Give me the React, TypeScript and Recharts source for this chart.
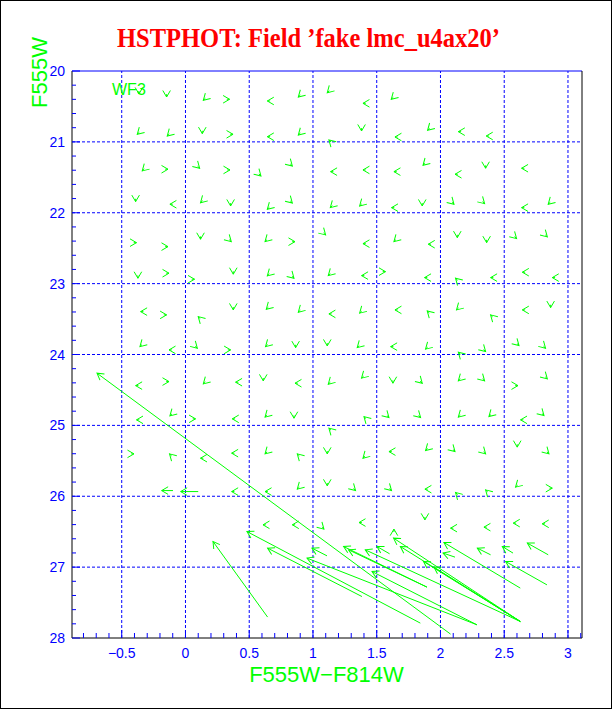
import React from "react";
import { LineChart, Line, XAxis, YAxis, ReferenceLine } from "recharts";

const GREEN = "#00ff00";
const BLUE = "#0000ff";
const AXIS_FONT = "'Liberation Sans', Arial, sans-serif";

const colorDomain: [number, number] = [-0.89, 3.11];
const magDomain: [number, number] = [20, 28];

const colorLabels = [-0.5, 0, 0.5, 1, 1.5, 2, 2.5, 3];
const magLabels = [20, 21, 22, 23, 24, 25, 26, 27, 28];
const colorGrid = [-0.5, 0, 0.5, 1, 1.5, 2, 2.5, 3];
const magGrid = [21, 22, 23, 24, 25, 26, 27];

// minor ticks every 0.1 in colour, 0.2 in magnitude
const colorTicks = Array.from({ length: 40 }, (_, i) => Math.round((-0.8 + i * 0.1) * 10) / 10);
const magTicks = Array.from({ length: 41 }, (_, i) => Math.round((20 + i * 0.2) * 10) / 10);

// recovered star position (colour, mag) + which way the tiny shift points
type Chevron = [number, number, string];

const brightStars: Chevron[] = [
  [-0.365, 20.324, "D"], [-0.148, 20.367, "D"], [0.14, 20.413, "DL"], [0.346, 20.399, "R"],
  [0.642, 20.423, "L"], [0.885, 20.367, "DL"], [1.112, 20.306, "DL"], [1.392, 20.456, "L"],
  [1.614, 20.399, "DL"],
  [-0.378, 20.893, "DL"], [-0.143, 20.917, "DL"], [0.132, 20.884, "D"], [0.373, 20.893, "R"],
  [0.642, 20.927, "L"], [0.885, 20.903, "DL"], [1.125, 20.973, "UL"], [1.381, 20.846, "D"],
  [1.643, 20.931, "L"], [1.899, 20.836, "DL"], [2.14, 20.856, "L"], [2.359, 20.917, "L"],
  [-0.339, 21.41, "DL"], [-0.137, 21.386, "R"], [0.111, 21.372, "DR"], [0.349, 21.396, "R"],
  [0.592, 21.481, "DR"], [0.838, 21.34, "DR"], [1.138, 21.42, "L"], [1.392, 21.396, "L"],
  [1.635, 21.42, "L"], [1.863, 21.33, "DL"], [2.114, 21.457, "L"], [2.354, 21.372, "D"],
  [2.636, 21.372, "L"],
  [-0.391, 21.843, "D"], [-0.122, 21.88, "L"], [0.118, 21.858, "DL"], [0.354, 21.904, "D"],
  [0.642, 21.951, "DL"], [0.838, 21.862, "DR"], [1.136, 21.928, "DL"], [1.366, 21.904, "DL"],
  [1.616, 21.928, "L"], [1.857, 21.904, "D"], [2.106, 21.88, "DR"], [2.346, 21.872, "DR"],
  [2.636, 21.928, "L"], [2.845, 21.88, "DL"],
  [-0.384, 22.422, "R"], [-0.137, 22.478, "R"], [0.118, 22.374, "D"], [0.359, 22.408, "DR"],
  [0.624, 22.408, "DL"], [0.859, 22.408, "R"], [1.099, 22.313, "DR"], [1.392, 22.436, "L"],
  [1.635, 22.408, "DL"], [1.904, 22.444, "L"], [2.132, 22.351, "D"], [2.362, 22.422, "D"],
  [2.597, 22.365, "DR"], [2.838, 22.341, "DR"],
];

const midStars: Chevron[] = [
  [-0.373, 22.924, "D"], [-0.129, 22.853, "R"], [0.071, 22.938, "R"], [0.375, 22.867, "D"],
  [0.642, 22.891, "DL"], [0.851, 22.924, "DR"], [1.12, 22.887, "DL"], [1.381, 22.887, "L"],
  [1.569, 22.831, "R"], [1.875, 22.915, "L"], [2.118, 22.924, "UL"], [2.393, 22.915, "L"],
  [2.642, 22.839, "L"], [2.877, 22.915, "L"],
  [-0.352, 23.395, "L"], [-0.148, 23.441, "R"], [0.1, 23.465, "UL"], [0.375, 23.371, "D"],
  [0.634, 23.361, "DL"], [0.885, 23.403, "DL"], [1.125, 23.427, "L"], [1.366, 23.417, "DL"],
  [1.643, 23.371, "L"], [1.896, 23.385, "UL"], [2.126, 23.371, "DL"], [2.393, 23.441, "UL"],
  [2.642, 23.371, "L"], [2.864, 23.338, "D"],
  [-0.357, 23.889, "DL"], [-0.129, 23.935, "L"], [0.093, 23.911, "DR"], [0.354, 23.935, "R"],
  [0.628, 23.889, "DL"], [0.864, 23.903, "D"], [1.112, 23.879, "D"], [1.347, 23.903, "DL"],
  [1.609, 23.889, "L"], [1.883, 23.925, "DL"], [2.14, 23.968, "UL"], [2.354, 23.959, "DR"],
  [2.616, 23.874, "DR"], [2.824, 23.911, "DR"],
  [-0.391, 24.439, "L"], [-0.129, 24.382, "R"], [0.14, 24.415, "DL"], [0.393, 24.391, "L"],
  [0.61, 24.372, "D"], [0.859, 24.405, "L"], [1.12, 24.419, "DL"], [1.381, 24.334, "DL"],
  [1.627, 24.405, "D"], [1.857, 24.405, "DR"], [2.14, 24.372, "DL"], [2.346, 24.372, "DR"],
  [2.608, 24.439, "R"], [2.838, 24.344, "DR"],
  [-0.384, 24.922, "L"], [-0.122, 24.866, "DL"], [0.079, 24.908, "R"], [0.367, 24.908, "L"],
  [0.624, 24.884, "DL"], [0.851, 24.899, "D"], [1.125, 25.039, "UL"], [1.4, 24.876, "UL"],
  [1.596, 24.89, "DR"], [1.844, 24.89, "DR"], [2.14, 24.884, "DL"], [2.38, 24.876, "DL"],
  [2.628, 24.922, "L"], [2.812, 24.862, "DR"],
];

const faintStars: Chevron[] = [
  [-0.404, 25.402, "R"], [-0.125, 25.402, "UL"], [0.118, 25.463, "L"], [0.362, 25.392, "L"],
  [0.624, 25.402, "DL"], [0.877, 25.402, "UL"], [1.112, 25.402, "D"], [1.392, 25.463, "DL"],
  [1.596, 25.37, "L"], [1.883, 25.355, "DL"], [2.114, 25.37, "DR"], [2.354, 25.402, "DR"],
  [2.602, 25.307, "D"], [2.851, 25.402, "DR"],
  [0.362, 25.934, "L"], [0.624, 25.934, "L"], [0.877, 25.9, "DL"], [1.112, 25.853, "D"],
  [1.334, 25.92, "DR"], [1.616, 25.92, "DR"], [1.878, 25.9, "L"], [2.118, 25.948, "UL"],
  [2.354, 25.91, "UL"], [2.589, 25.872, "DL"], [2.877, 25.886, "R"],
  [0.608, 26.403, "L"], [0.838, 26.403, "L"], [1.086, 26.464, "DR"], [1.361, 26.371, "L"],
  [1.635, 26.464, "U"], [1.878, 26.333, "D"], [2.079, 26.45, "L"], [2.341, 26.436, "L"],
  [2.571, 26.379, "L"], [2.798, 26.389, "L"],
];

// [colour in, mag in, colour out, mag out]
const shortVectors: [number, number, number, number][] = [
  [-0.098, 25.92, -0.187, 25.92],
  [0.1, 25.934, -0.038, 25.934],
  [1.11, 26.841, 0.992, 26.732],
  [1.601, 26.812, 1.502, 26.709],
  [2.114, 26.859, 2.02, 26.802],
  [2.393, 26.826, 2.289, 26.732],
  [2.569, 26.802, 2.485, 26.709],
  [2.845, 26.826, 2.681, 26.661],
];

const longVectors: [number, number, number, number][] = [
  [2.079, 27.945, -0.694, 24.264],
  [0.644, 27.705, 0.216, 26.639],
  [1.842, 27.79, 0.482, 26.498],
  [1.384, 27.415, 0.644, 26.732],
  [2.286, 27.814, 0.953, 26.873],
  [1.894, 27.282, 1.24, 26.709],
  [1.894, 27.282, 1.279, 26.756],
  [2.626, 27.767, 1.41, 26.756],
  [2.626, 27.767, 1.632, 26.591],
  [2.626, 27.767, 1.685, 26.709],
  [2.626, 27.767, 1.867, 26.921],
  [2.626, 27.767, 1.949, 27.0],
  [2.286, 27.814, 1.463, 27.062],
  [2.626, 27.296, 2.027, 26.653],
  [2.835, 27.25, 2.511, 26.921],
];

// back-step from the arrow tip to its (tiny) tail, in data units
const STEP: Record<string, [number, number]> = {
  L: [0.022, 0],
  R: [-0.022, 0],
  D: [0, -0.04],
  U: [0, 0.04],
  DL: [0.016, -0.028],
  DR: [-0.016, -0.028],
  UL: [0.016, 0.028],
};

const vectors = [
  ...[...brightStars, ...midStars, ...faintStars].map(([x, y, d]) => [x + STEP[d][0], y + STEP[d][1], x, y]),
  ...shortVectors,
  ...longVectors,
];

const isMajor = (v: number, list: number[]) => list.some((m) => Math.abs(m - v) < 1e-6);
const fmt = (v: number) => (v < 0 ? "\u2212" + String(-v) : String(v));

function ColorTick({ x, y, payload }: any) {
  const v = payload.value;
  const major = isMajor(v, colorLabels);
  return (
    <g>
      <line x1={x} x2={x} y1={y} y2={y - (major ? 8 : 5)} stroke={BLUE} />
      {major && (
        <text x={x} y={y + 20} textAnchor="middle" fill={BLUE} fontSize={14} fontFamily={AXIS_FONT}>
          {fmt(v)}
        </text>
      )}
    </g>
  );
}

function MagTick({ x, y, payload }: any) {
  const v = payload.value;
  const major = isMajor(v, magLabels);
  return (
    <g>
      <line x1={x} x2={x + (major ? 8 : 4)} y1={y} y2={y} stroke={BLUE} />
      {major && (
        <text x={x - 7} y={y + 5} textAnchor="end" fill={BLUE} fontSize={14} fontFamily={AXIS_FONT}>
          {v}
        </text>
      )}
    </g>
  );
}

export default function App() {
  return (
    <div
      style={{
        position: "absolute",
        left: 0,
        top: 0,
        width: 612,
        height: 709,
        boxSizing: "border-box",
        border: "1px solid #000",
        background: "#fff",
      }}
    >
      <LineChart width={610} height={707} margin={{ top: 70, right: 29, bottom: 40, left: 31 }}>
        <XAxis
          dataKey="x"
          type="number"
          domain={colorDomain}
          allowDataOverflow
          ticks={colorTicks}
          interval={0}
          tick={<ColorTick />}
          tickLine={false}
          tickSize={0}
          tickMargin={0}
          height={30}
          axisLine={{ stroke: "#000" }}
        />
        <YAxis
          type="number"
          domain={magDomain}
          allowDataOverflow
          reversed
          ticks={magTicks}
          interval={0}
          tick={<MagTick />}
          tickLine={false}
          tickSize={0}
          tickMargin={0}
          width={40}
          axisLine={{ stroke: "#000" }}
        />
        {colorGrid.map((v) => (
          <ReferenceLine key={"gx" + v} x={v} stroke={BLUE} strokeDasharray="3 2" />
        ))}
        {magGrid.map((v) => (
          <ReferenceLine key={"gy" + v} y={v} stroke={BLUE} strokeDasharray="3 2" />
        ))}
        <ReferenceLine y={magDomain[0]} stroke={BLUE} />
        <ReferenceLine x={colorDomain[1]} stroke="#000" />
        {vectors.map((v, i) => (
          <Line
            key={"v" + i}
            data={[
              { x: v[0], y: v[1] },
              { x: v[2], y: v[3] },
            ]}
            dataKey="y"
            stroke={GREEN}
            strokeWidth={1}
            dot={false}
            activeDot={false}
            legendType="none"
            markerEnd="url(#arrowHead)"
            isAnimationActive={false}
          />
        ))}
      </LineChart>
      <svg
        width={612}
        height={709}
        style={{ position: "absolute", left: -1, top: -1, pointerEvents: "none" }}
      >
        <defs>
          <marker
            id="arrowHead"
            markerUnits="userSpaceOnUse"
            markerWidth={10}
            markerHeight={10}
            viewBox="-8 -5 10 10"
            refX={0}
            refY={0}
            orient="auto"
            overflow="visible"
          >
            <path d="M-6.5,-3.8 L0,0 L-6.5,3.8" fill="none" stroke={GREEN} strokeWidth={1} />
          </marker>
        </defs>
        <text
          x={308.5}
          y={47}
          textAnchor="middle"
          fill="#ff0000"
          fontSize={27}
          fontWeight="bold"
          fontFamily="'Liberation Serif', 'Times New Roman', serif"
          textLength={383}
          lengthAdjust="spacingAndGlyphs"
        >
          HSTPHOT: Field ’fake lmc_u4ax20’
        </text>
        <text
          x={0}
          y={0}
          transform="translate(47,72.5) rotate(-90)"
          textAnchor="middle"
          fill={GREEN}
          fontSize={22}
          fontFamily={AXIS_FONT}
        >
          F555W
        </text>
        <text x={326.5} y={682} textAnchor="middle" fill={GREEN} fontSize={22} fontFamily={AXIS_FONT}>
          F555W−F814W
        </text>
        <text x={112} y={94.5} fill={GREEN} fontSize={16} fontFamily={AXIS_FONT}>
          WF3
        </text>
      </svg>
    </div>
  );
}
